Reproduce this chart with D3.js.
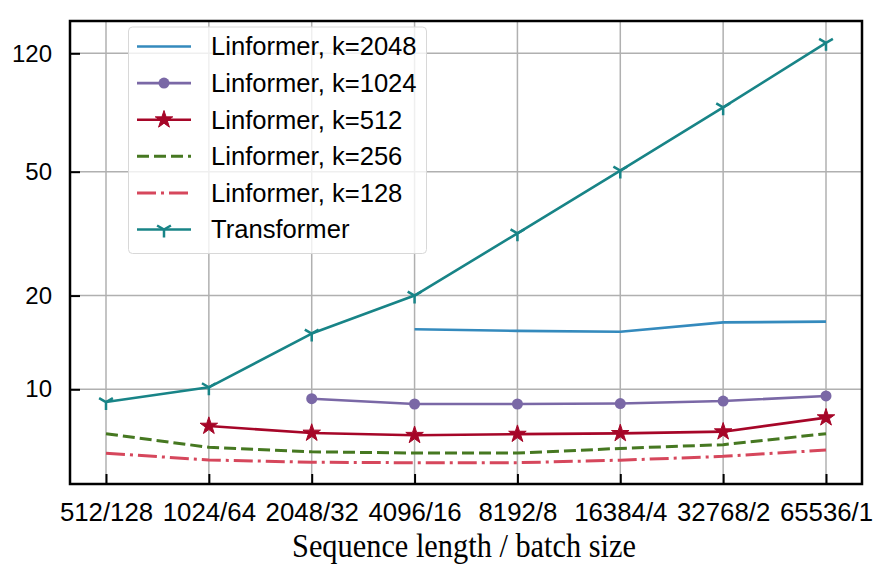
<!DOCTYPE html>
<html>
<head>
<meta charset="utf-8">
<script src="https://cdn.jsdelivr.net/npm/d3@7"></script>
<style>
  html, body { margin: 0; padding: 0; background: #fff; }
  svg { display: block; }
</style>
</head>
<body>
<svg id="chart" width="895" height="569"></svg>
<script>
// ---- data ----
const categories = ["512/128", "1024/64", "2048/32", "4096/16", "8192/8", "16384/4", "32768/2", "65536/1"];
const yTicks = [10, 20, 50, 120];
const seriesNames = ["Linformer, k=2048", "Linformer, k=1024", "Linformer, k=512", "Linformer, k=256", "Linformer, k=128", "Transformer"];
const k2048 = [null, null, null, 15.6, 15.4, 15.3, 16.4, 16.5];
const k1024 = [null, null, 9.33, 8.97, 8.97, 9.0, 9.17, 9.52];
const k512 = [null, 7.62, 7.24, 7.12, 7.18, 7.22, 7.31, 8.11];
const k256 = [7.2, 6.51, 6.30, 6.24, 6.24, 6.46, 6.64, 7.2];
const k128 = [6.23, 5.93, 5.83, 5.81, 5.81, 5.92, 6.09, 6.38];
const transformer = [9.1, 10.15, 15.1, 20.0, 31.7, 50.4, 80.5, 129.7];

// ---- styles ----
const styles = [
  { color: "#348ABD", dash: null, marker: null },
  { color: "#7A68A6", dash: null, marker: "circle" },
  { color: "#A60628", dash: null, marker: "star" },
  { color: "#467821", dash: "12,5", marker: null },
  { color: "#D6475C", dash: "19,5,3,5", marker: null },
  { color: "#188487", dash: null, marker: "tri" }
];
const allSeries = [k2048, k1024, k512, k256, k128, transformer];

const svg = d3.select("#chart");
const L = 70, R = 862, T = 21, B = 484;

const x = d3.scaleLinear().domain([-0.35, categories.length - 1 + 0.35]).range([L, R]);
const y = d3.scaleLog().domain([4.964, 152.4]).range([B, T]);

// grid
const grid = svg.append("g");
grid.selectAll("line.vx").data(categories).enter().append("line")
  .attr("x1", (d, i) => x(i)).attr("x2", (d, i) => x(i))
  .attr("y1", T).attr("y2", B)
  .attr("stroke", "#b0b0b0").attr("stroke-width", 1.5);
grid.selectAll("line.hy").data(yTicks).enter().append("line")
  .attr("x1", L).attr("x2", R)
  .attr("y1", d => y(d)).attr("y2", d => y(d))
  .attr("stroke", "#b0b0b0").attr("stroke-width", 1.5);

// axes
const xAxis = d3.axisBottom(x).tickValues(d3.range(categories.length))
  .tickFormat(i => categories[i]).tickSizeInner(-10).tickSizeOuter(0).tickPadding(19);
const gx = svg.append("g").attr("transform", `translate(0,${B})`).call(xAxis);
const yAxis = d3.axisLeft(y).tickValues(yTicks).tickFormat(d => d)
  .tickSizeInner(-10).tickSizeOuter(0).tickPadding(18);
const gy = svg.append("g").attr("transform", `translate(${L},0)`).call(yAxis);
[gx, gy].forEach(g => {
  g.select(".domain").remove();
  g.selectAll(".tick line").attr("stroke", "#000").attr("stroke-width", 2);
  g.selectAll(".tick text").attr("fill", "#000")
    .style("font-family", "'Liberation Sans', Arial, sans-serif");
});
gx.selectAll(".tick text").style("font-size", "25.8px");
gy.selectAll(".tick text").style("font-size", "24px");

// lines
const line = d3.line().defined(d => d != null).x((d, i) => x(i)).y(d => y(d));
const triPath = "M0,0L0,8M0,0L-6.9,-4M0,0L6.9,-4";
function drawMarker(g, type, color, cx, cy) {
  if (type === "circle") {
    g.append("circle").attr("cx", cx).attr("cy", cy).attr("r", 5.5).attr("fill", color);
  } else if (type === "star") {
    g.append("path").attr("d", d3.symbol().type(d3.symbolStar).size(95)())
      .attr("transform", `translate(${cx},${cy})`).attr("fill", color)
      .attr("stroke", color).attr("stroke-width", 1);
  } else if (type === "tri") {
    g.append("path").attr("d", triPath).attr("transform", `translate(${cx},${cy})`)
      .attr("fill", "none").attr("stroke", color).attr("stroke-width", 2.5);
  }
}
const plot = svg.append("g");
allSeries.forEach((data, si) => {
  const st = styles[si];
  const g = plot.append("g");
  g.append("path").datum(data).attr("d", line)
    .attr("fill", "none").attr("stroke", st.color)
    .attr("stroke-width", st.dash ? 3 : 2.6)
    .attr("stroke-dasharray", st.dash)
    .attr("stroke-linejoin", "round");
  if (st.marker) {
    data.forEach((v, i) => { if (v != null) drawMarker(g, st.marker, st.color, x(i), y(v)); });
  }
});

// frame
svg.append("rect").attr("x", L).attr("y", T).attr("width", R - L).attr("height", B - T)
  .attr("fill", "none").attr("stroke", "#000").attr("stroke-width", 2.5);

// legend
const lg = svg.append("g");
lg.append("rect").attr("x", 128.5).attr("y", 27).attr("width", 298).attr("height", 226.5)
  .attr("rx", 4).attr("fill", "#fff").attr("fill-opacity", 0.8)
  .attr("stroke", "#d8d8d8").attr("stroke-width", 1);
seriesNames.forEach((name, i) => {
  const st = styles[i];
  const cy = 46.5 + i * 36.6;
  lg.append("line").attr("x1", 137).attr("x2", 191).attr("y1", cy).attr("y2", cy)
    .attr("stroke", st.color).attr("stroke-width", st.dash ? 3 : 2.6)
    .attr("stroke-dasharray", st.dash);
  if (st.marker) drawMarker(lg, st.marker, st.color, 164, cy);
  lg.append("text").attr("x", 211).attr("y", cy).attr("dy", "0.35em")
    .style("font-family", "'Liberation Sans', Arial, sans-serif").style("font-size", "25.6px")
    .attr("fill", "#000").text(name);
});

// x label
svg.append("text").attr("x", 464).attr("y", 557).attr("text-anchor", "middle")
  .attr("textLength", 344).attr("lengthAdjust", "spacingAndGlyphs")
  .style("font-family", "'Liberation Serif', 'Times New Roman', serif").style("font-size", "34px")
  .attr("fill", "#000").text("Sequence length / batch size");
</script>
</body>
</html>
